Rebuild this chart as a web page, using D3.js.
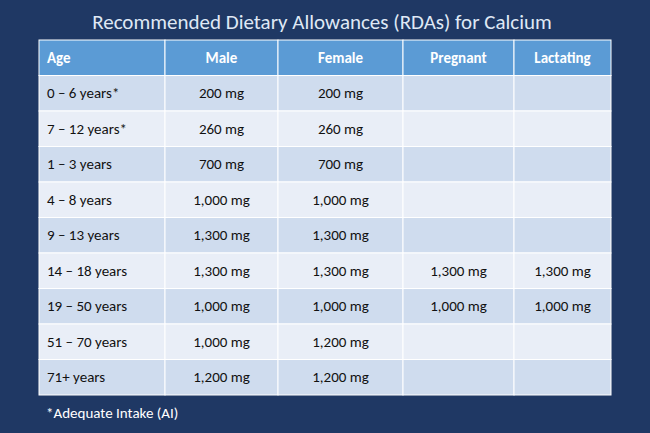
<!DOCTYPE html>
<html><head><meta charset="utf-8">
<script src="https://cdn.jsdelivr.net/npm/d3@7"></script>
<style>body{margin:0;background:#1f3864;}</style>
</head><body><div id="chart"></div>
<script>
const columns = ["Age", "Male", "Female", "Pregnant", "Lactating"];
const ages = ["0 – 6 years*", "7 – 12 years*", "1 – 3 years", "4 – 8 years", "9 – 13 years",
  "14 – 18 years", "19 – 50 years", "51 – 70 years", "71+ years"];
const male = ["200 mg", "260 mg", "700 mg", "1,000 mg", "1,300 mg", "1,300 mg", "1,000 mg", "1,000 mg", "1,200 mg"];
const female = ["200 mg", "260 mg", "700 mg", "1,000 mg", "1,300 mg", "1,300 mg", "1,000 mg", "1,200 mg", "1,200 mg"];
const pregnant = ["", "", "", "", "", "1,300 mg", "1,000 mg", "", ""];
const lactating = ["", "", "", "", "", "1,300 mg", "1,000 mg", "", ""];
const colEdges = [39, 165, 278, 403, 514, 611];

const width = 650, height = 433;
const svg = d3.select("#chart").append("svg").attr("width", width).attr("height", height)
  .style("font-family", "Calibri, Carlito, 'Open Sans', sans-serif");
svg.append("rect").attr("width", width).attr("height", height).attr("fill", "#1f3864");

svg.append("text").attr("x", 322).attr("y", 29).attr("text-anchor", "middle")
  .attr("fill", "#dfe8f5").attr("font-size", 21).text("Recommended Dietary Allowances (RDAs) for Calcium");

const rows = ages.map((a, i) => [a, male[i], female[i], pregnant[i], lactating[i]]);
const y = d3.scaleBand().domain(d3.range(rows.length + 1)).range([40, 395]);

const g = svg.append("g");
// header
columns.forEach((c, j) => {
  g.append("rect").attr("x", colEdges[j]).attr("y", y(0)).attr("width", colEdges[j + 1] - colEdges[j])
    .attr("height", y.bandwidth()).attr("fill", "#5b9bd5").attr("stroke", "#fff").attr("stroke-width", 1);
  g.append("text").attr("x", j === 0 ? colEdges[j] + 8 : (colEdges[j] + colEdges[j + 1]) / 2)
    .attr("y", y(0) + y.bandwidth() / 2 + 5).attr("text-anchor", j === 0 ? "start" : "middle")
    .attr("fill", "#fff").attr("font-weight", "bold").attr("font-size", 15).text(c);
});
rows.forEach((r, i) => {
  r.forEach((v, j) => {
    g.append("rect").attr("x", colEdges[j]).attr("y", y(i + 1)).attr("width", colEdges[j + 1] - colEdges[j])
      .attr("height", y.bandwidth()).attr("fill", i % 2 === 0 ? "#cfdcee" : "#e9eef7")
      .attr("stroke", "#fff").attr("stroke-width", 1);
    g.append("text").attr("x", j === 0 ? colEdges[j] + 8 : (colEdges[j] + colEdges[j + 1]) / 2)
      .attr("y", y(i + 1) + y.bandwidth() / 2 + 5).attr("text-anchor", j === 0 ? "start" : "middle")
      .attr("fill", "#111").attr("font-size", 15).text(v);
  });
});

svg.append("text").attr("x", 46).attr("y", 418).attr("fill", "#fff").attr("font-size", 15)
  .text("*Adequate Intake (AI)");
</script></body></html>
